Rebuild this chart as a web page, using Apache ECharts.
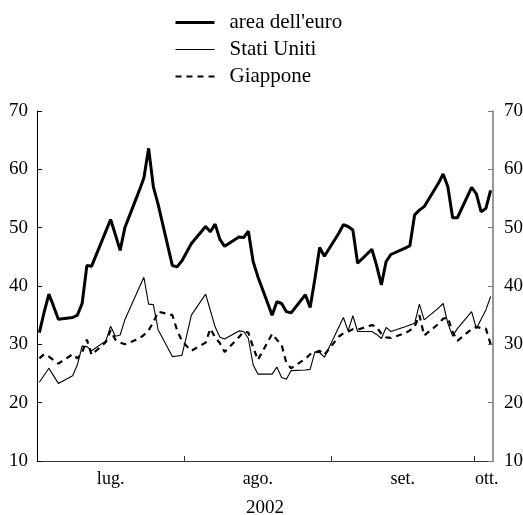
<!DOCTYPE html>
<html>
<head>
<meta charset="utf-8">
<script src="https://cdn.jsdelivr.net/npm/echarts@6/dist/echarts.min.js"></script>
<style>
html,body{margin:0;padding:0;background:#fff;}
#chart{width:523px;height:515px;}
</style>
</head>
<body>
<div id="chart"></div>
<script>
// Business days, Jul–Oct 2002
const dates = [
 '2002-07-01','2002-07-02','2002-07-03','2002-07-04','2002-07-05',
 '2002-07-08','2002-07-09','2002-07-10','2002-07-11','2002-07-12',
 '2002-07-15','2002-07-16','2002-07-17','2002-07-18','2002-07-19',
 '2002-07-22','2002-07-23','2002-07-24','2002-07-25','2002-07-26',
 '2002-07-29','2002-07-30','2002-07-31','2002-08-01','2002-08-02',
 '2002-08-05','2002-08-06','2002-08-07','2002-08-08','2002-08-09',
 '2002-08-12','2002-08-13','2002-08-14','2002-08-15','2002-08-16',
 '2002-08-19','2002-08-20','2002-08-21','2002-08-22','2002-08-23',
 '2002-08-26','2002-08-27','2002-08-28','2002-08-29','2002-08-30',
 '2002-09-02','2002-09-03','2002-09-04','2002-09-05','2002-09-06',
 '2002-09-09','2002-09-10','2002-09-11','2002-09-12','2002-09-13',
 '2002-09-16','2002-09-17','2002-09-18','2002-09-19','2002-09-20',
 '2002-09-23','2002-09-24','2002-09-25','2002-09-26','2002-09-27',
 '2002-09-30','2002-10-01','2002-10-02','2002-10-03','2002-10-04'
];
const areaEuro = [
 32.0,35.5,38.6,36.5,34.3,
 34.6,35.0,37.0,43.5,43.4,
 49.4,51.4,48.8,46.1,50.0,
 56.3,58.5,63.6,57.0,54.0,
 43.5,43.3,44.3,45.8,47.3,
 50.2,49.3,50.6,48.0,46.8,
 48.4,48.3,49.4,44.2,41.6,
 35.0,37.3,37.0,35.6,35.4,
 38.5,36.3,41.2,46.6,45.1,
 49.0,50.5,50.2,49.6,43.9,
 46.3,43.5,40.2,44.2,45.4,
 46.5,46.9,52.2,53.0,53.6,
 57.6,59.2,57.0,51.7,51.7,
 56.9,55.8,52.7,53.3,56.4
];
const statiUniti = [
 23.5,24.7,25.9,24.6,23.3,
 24.6,26.5,29.7,29.6,28.9,
 30.6,33.1,31.4,31.6,34.2,
 39.7,41.5,36.9,36.8,32.5,
 27.9,28.0,28.1,31.5,35.0,
 38.6,35.8,33.0,31.2,30.9,
 32.3,32.2,31.0,26.5,24.9,
 24.9,26.1,24.3,24.0,25.5,
 25.6,25.7,28.7,28.6,27.8,
 32.9,34.6,32.3,34.9,32.2,
 32.2,31.7,31.0,32.9,32.2,
 33.0,33.3,33.6,36.9,34.2,
 36.2,37.0,33.6,31.4,32.7,
 35.6,32.7,34.3,35.9,38.2
];
const giappone = [
 27.6,28.3,27.9,27.3,26.7,
 28.3,27.6,28.6,30.8,28.2,
 30.4,32.4,30.8,30.3,30.0,
 31.0,31.6,32.4,33.8,35.6,
 35.0,32.4,30.6,29.7,28.9,
 30.3,32.7,31.2,30.2,28.7,
 31.2,32.2,32.0,29.5,27.3,
 31.8,30.8,29.9,26.8,25.9,
 27.5,28.3,28.6,28.9,28.2,
 31.3,31.9,32.2,32.6,32.5,
 33.3,33.0,31.8,31.2,31.1,
 31.9,32.4,33.0,35.0,31.5,
 33.5,34.4,34.6,32.1,30.6,
 32.6,33.0,32.8,32.7,30.0
];
const seriesNames = ["area dell'euro", 'Stati Uniti', 'Giappone'];
const monthLabels = ['lug.', 'ago.', 'set.', 'ott.'];
const monthLabelPos = ['2002-07-16T12:00', '2002-08-16T12:00', '2002-09-16', '2002-10-03T17:00'];
const monthStarts = ['2002-08-01', '2002-09-01', '2002-10-01'];
const axisStart = '2002-07-01';
const axisEnd = '2002-10-05';
const yearLabel = '2002';

const DAY = 86400000;
const t0 = Date.parse(axisStart + 'T00:00:00Z');
function dayOf(s) {
  const str = s.length === 10 ? s + 'T00:00:00Z' : s + ':00Z';
  return (Date.parse(str) - t0) / DAY;
}
const xs = dates.map(d => dayOf(d) + 0.5);
const pairs = arr => arr.map((v, i) => [xs[i], v]);
const labelVals = monthLabelPos.map(dayOf);
const tickVals = monthStarts.map(dayOf);

const font = 'Liberation Serif';
const lineStyles = [
  {color: '#000', width: 3},
  {color: '#000', width: 1.1},
  {color: '#000', width: 2.2, type: [6, 5]}
];
const chart = echarts.init(document.getElementById('chart'), null, {renderer: 'canvas'});
const yAxisBase = {
  type: 'value', min: 10, max: 70, interval: 10,
  splitLine: {show: false},
  axisTick: {show: true, inside: true, length: 5, lineStyle: {color: '#000'}},
  axisLabel: {fontFamily: font, fontSize: 19, color: '#000', margin: 9},
};
chart.setOption({
  animation: false,
  backgroundColor: '#fff',
  textStyle: {fontFamily: font},
  grid: {left: 37, right: 30, top: 111, bottom: 54, containLabel: false, outerBoundsMode: 'none'},
  legend: {
    orient: 'vertical', left: 169, top: 7,
    itemWidth: 39, itemHeight: 20, itemGap: 6,
    itemStyle: {opacity: 0},
    textStyle: {fontFamily: font, fontSize: 21, color: '#000', padding: [0, 0, 0, 10], lineHeight: 20},
    data: seriesNames.map((n, i) => ({name: n, lineStyle: lineStyles[i]}))
  },
  xAxis: {
    type: 'value', min: 0, max: dayOf(axisEnd),
    name: yearLabel, nameLocation: 'middle', nameGap: 38,
    nameTextStyle: {fontFamily: font, fontSize: 19, color: '#000'},
    splitLine: {show: false},
    axisLine: {lineStyle: {color: '#333', width: 1}},
    axisTick: {show: true, inside: true, length: 5, customValues: tickVals, lineStyle: {color: '#333'}},
    axisLabel: {
      fontFamily: font, fontSize: 18, color: '#000', margin: 9,
      customValues: labelVals,
      formatter: v => {
        let best = 0;
        labelVals.forEach((lv, i) => { if (Math.abs(lv - v) < Math.abs(labelVals[best] - v)) best = i; });
        return monthLabels[best];
      }
    }
  },
  yAxis: [
    Object.assign({}, yAxisBase, {position: 'left', axisLine: {show: true, lineStyle: {color: '#000', width: 1}}}),
    Object.assign({}, yAxisBase, {position: 'right', axisLine: {show: true, lineStyle: {color: '#777', width: 1.5}},
      axisTick: {show: true, inside: true, length: 5, lineStyle: {color: '#777'}},
      axisLabel: {fontFamily: font, fontSize: 19, color: '#000', margin: 11}})
  ],
  series: [
    {name: seriesNames[0], type: 'line', data: pairs(areaEuro), showSymbol: false, symbol: 'none',
     lineStyle: lineStyles[0], itemStyle: {color: '#000'}},
    {name: seriesNames[1], type: 'line', data: pairs(statiUniti), showSymbol: false, symbol: 'none',
     lineStyle: lineStyles[1], itemStyle: {color: '#000'}},
    {name: seriesNames[2], type: 'line', data: pairs(giappone), showSymbol: false, symbol: 'none',
     lineStyle: lineStyles[2], itemStyle: {color: '#000'}}
  ]
});
</script>
</body>
</html>
